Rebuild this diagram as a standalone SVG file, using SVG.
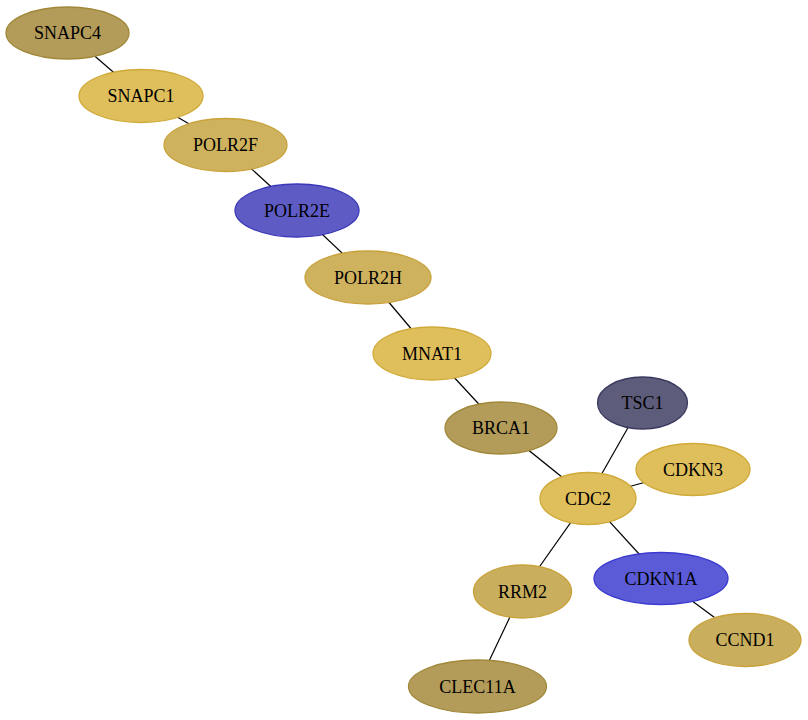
<svg xmlns="http://www.w3.org/2000/svg" width="808" height="720" viewBox="0 0 808 720">
<style>
.e line{stroke:#000;stroke-width:1.2}
.n ellipse{stroke-width:1.3}
.n text{font-family:"Liberation Serif","Times New Roman",serif;font-size:18px;fill:#000;text-anchor:middle;dominant-baseline:central}
.olive{fill:#b39c5a;stroke:#a08838}
.gold{fill:#dfbe5c;stroke:#d0aa38}
.tan{fill:#cfb25e;stroke:#c9a23a}
.tan2{fill:#c9ae5d;stroke:#c9a23a}
.blue{fill:#5e5cc4;stroke:#3b38b8}
.blue2{fill:#5b5bd8;stroke:#3b3ad0}
.slate{fill:#5d5c7a;stroke:#3a3960}
</style>
<rect width="808" height="720" fill="#fff"/>
<g class="e" id="edges">
<line x1="68" y1="33" x2="141" y2="96"/>
<line x1="141" y1="96" x2="225.5" y2="145"/>
<line x1="225.5" y1="145" x2="297" y2="210.5"/>
<line x1="297" y1="210.5" x2="368" y2="277.5"/>
<line x1="368" y1="277.5" x2="432" y2="353.5"/>
<line x1="432" y1="353.5" x2="501" y2="428"/>
<line x1="501" y1="428" x2="588" y2="498"/>
<line x1="642" y1="403" x2="588" y2="498"/>
<line x1="693" y1="469" x2="588" y2="498"/>
<line x1="588" y1="498" x2="661" y2="578"/>
<line x1="588" y1="498" x2="522" y2="591.5"/>
<line x1="522" y1="591.5" x2="477" y2="686.5"/>
<line x1="661" y1="578" x2="745" y2="640"/>
</g>
<g class="n" id="SNAPC4"><ellipse class="olive" cx="67.5" cy="33" rx="61.5" ry="26"/><text x="67.5" y="33">SNAPC4</text></g>
<g class="n" id="SNAPC1"><ellipse class="gold" cx="141" cy="96" rx="62" ry="26.5"/><text x="141" y="96">SNAPC1</text></g>
<g class="n" id="POLR2F"><ellipse class="tan" cx="225.5" cy="145" rx="61.5" ry="26.5"/><text x="225.5" y="145">POLR2F</text></g>
<g class="n" id="POLR2E"><ellipse class="blue" cx="297" cy="210.5" rx="62" ry="26.5"/><text x="297" y="210.5">POLR2E</text></g>
<g class="n" id="POLR2H"><ellipse class="tan" cx="368" cy="277.5" rx="63" ry="26.5"/><text x="368" y="277.5">POLR2H</text></g>
<g class="n" id="MNAT1"><ellipse class="gold" cx="432" cy="353.5" rx="59" ry="26.5"/><text x="432" y="353.5">MNAT1</text></g>
<g class="n" id="BRCA1"><ellipse class="olive" cx="501" cy="428" rx="56" ry="26"/><text x="501" y="428">BRCA1</text></g>
<g class="n" id="TSC1"><ellipse class="slate" cx="642.5" cy="403" rx="45" ry="26"/><text x="642.5" y="403">TSC1</text></g>
<g class="n" id="CDKN3"><ellipse class="gold" cx="693" cy="469.5" rx="57" ry="26"/><text x="693" y="469.5">CDKN3</text></g>
<g class="n" id="CDC2"><ellipse class="gold" cx="588" cy="498.5" rx="48" ry="26"/><text x="588" y="498.5">CDC2</text></g>
<g class="n" id="CDKN1A"><ellipse class="blue2" cx="661" cy="578.5" rx="67" ry="26"/><text x="661" y="578.5">CDKN1A</text></g>
<g class="n" id="RRM2"><ellipse class="tan2" cx="522.5" cy="591.5" rx="49" ry="26.5"/><text x="522.5" y="591.5">RRM2</text></g>
<g class="n" id="CCND1"><ellipse class="tan2" cx="745" cy="640" rx="56" ry="26.5"/><text x="745" y="640">CCND1</text></g>
<g class="n" id="CLEC11A"><ellipse class="olive" cx="477.5" cy="686.5" rx="69" ry="26.5"/><text x="477.5" y="686.5">CLEC11A</text></g>
</svg>
